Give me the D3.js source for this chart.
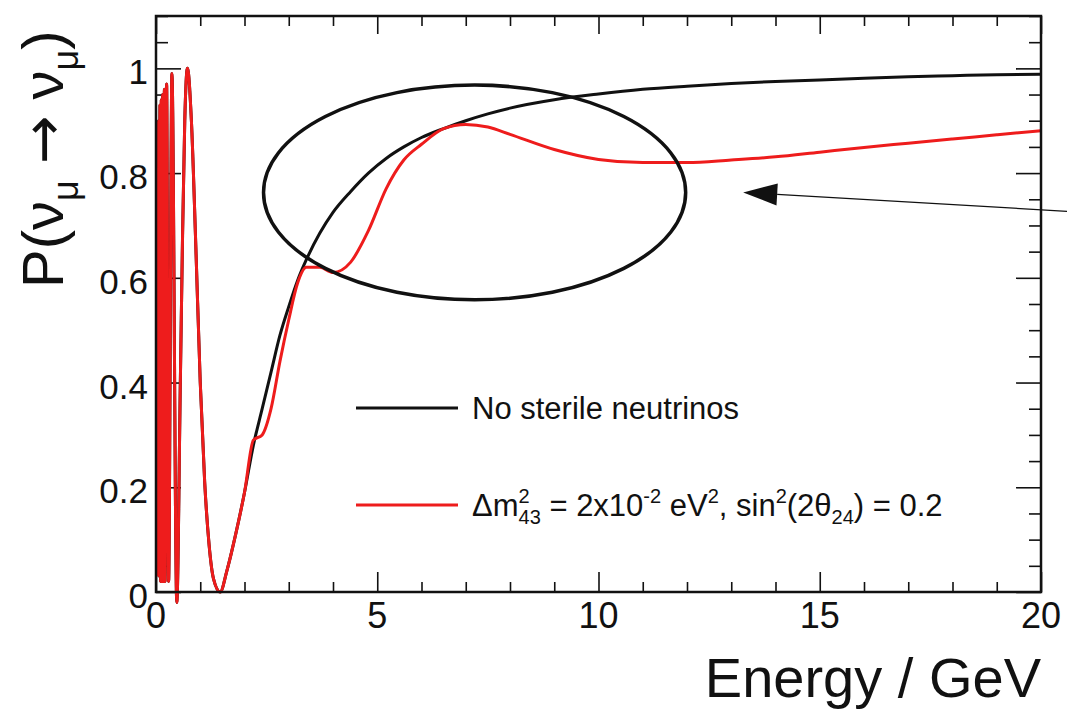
<!DOCTYPE html>
<html>
<head>
<meta charset="utf-8">
<script src="https://cdn.jsdelivr.net/npm/d3@7"></script>
<style>
  html, body { margin: 0; padding: 0; background: #fff; }
  svg text { font-family: "Liberation Sans", Arial, Helvetica, sans-serif; fill: #111; }
</style>
</head>
<body>
<div id="canvas"></div>
<script>
var energyGeV = [0.05, 0.06, 0.075, 0.09, 0.105, 0.12, 0.135, 0.15, 0.165, 0.19, 0.205, 0.24, 0.285, 0.36, 0.47,
  0.55, 0.6, 0.65, 0.71, 0.8, 0.9, 1.0, 1.1, 1.2, 1.3, 1.45, 1.6, 1.8, 2.0, 2.2, 2.4, 2.6, 2.8, 3.0, 3.2, 3.4,
  3.7, 4.0, 4.4, 4.8, 5.2, 5.6, 6.0, 6.5, 7.0, 7.5, 8, 9, 10, 11, 12, 13, 14, 15, 16, 17, 18, 19, 20];

// survival probability, standard 3-flavour
var probNoSterile = [0.03, 0.9, 0.03, 0.93, 0.02, 0.94, 0.02, 0.95, 0.02, 0.96, 0.02, 0.97, 0.02, 0.99, -0.02,
  0.4, 0.68, 0.9, 1.0, 0.9, 0.66, 0.4, 0.21, 0.09, 0.025, 0.0, 0.04, 0.11, 0.19, 0.28, 0.35, 0.42, 0.49, 0.545, 0.595, 0.635,
  0.685, 0.725, 0.765, 0.80, 0.828, 0.85, 0.868, 0.885, 0.90, 0.913, 0.924, 0.94, 0.951, 0.96, 0.966, 0.971, 0.975,
  0.978, 0.981, 0.984, 0.986, 0.988, 0.989];

// survival probability with dm2_43 = 2e-2 eV2, sin2(2th24) = 0.2
var probSterile = [0.03, 0.9, 0.03, 0.93, 0.02, 0.94, 0.02, 0.95, 0.02, 0.96, 0.02, 0.97, 0.02, 0.99, -0.02,
  0.4, 0.68, 0.9, 1.0, 0.9, 0.66, 0.4, 0.21, 0.09, 0.025, 0.0, 0.04, 0.11, 0.19, 0.29, 0.30, 0.35, 0.44, 0.52, 0.59, 0.62,
  0.62, 0.61, 0.63, 0.69, 0.77, 0.825, 0.855, 0.885, 0.893, 0.888, 0.874, 0.845, 0.826, 0.82, 0.82, 0.825, 0.831,
  0.84, 0.849, 0.857, 0.865, 0.873, 0.881];

var xTicks = [0, 5, 10, 15, 20];
var xTickLabels = ["0", "5", "10", "15", "20"];
var yTicks = [0, 0.2, 0.4, 0.6, 0.8, 1];
var yTickLabels = ["0", "0.2", "0.4", "0.6", "0.8", "1"];

var legendLabels = ["No sterile neutrinos", "sterile"];

var Chart = {
  svg: null,

  draw: function() {
    var width = 1067, height = 713;
    var frame = { left: 156, right: 1041, top: 16, bottom: 592 };

    var svg = d3.select("#canvas").append("svg")
      .attr("width", width)
      .attr("height", height);
    Chart.svg = svg;

    var x = d3.scaleLinear().domain([0, 20]).range([frame.left, frame.right]);
    var y = d3.scaleLinear().domain([0, 1.1]).range([frame.bottom, frame.top]);

    // ticks, ROOT style: inward, mirrored on top and right
    var xMinor = d3.range(0, 21, 1).filter(function(v) { return v % 5 !== 0; });
    var yMinor = d3.range(0, 23).map(function(i) { return i * 0.05; })
      .filter(function(v) { return Math.abs(v * 5 - Math.round(v * 5)) > 1e-6; });

    function tickAxis(axisFn, scale, values, size, tr) {
      svg.append("g")
        .attr("transform", tr)
        .call(axisFn(scale).tickValues(values).tickSize(size).tickSizeOuter(0).tickFormat(""))
        .call(function(g) {
          g.select(".domain").remove();
          g.selectAll(".tick line").attr("stroke", "#111").attr("stroke-width", 1.6);
        });
    }
    tickAxis(d3.axisBottom, x, xTicks, -20, "translate(0," + frame.bottom + ")");
    tickAxis(d3.axisBottom, x, xMinor, -10, "translate(0," + frame.bottom + ")");
    tickAxis(d3.axisTop, x, xTicks, -18, "translate(0," + frame.top + ")");
    tickAxis(d3.axisTop, x, xMinor, -10, "translate(0," + frame.top + ")");
    tickAxis(d3.axisLeft, y, yTicks, -25, "translate(" + frame.left + ",0)");
    tickAxis(d3.axisLeft, y, yMinor, -12, "translate(" + frame.left + ",0)");
    tickAxis(d3.axisRight, y, yTicks, -25, "translate(" + frame.right + ",0)");
    tickAxis(d3.axisRight, y, yMinor, -12, "translate(" + frame.right + ",0)");

    // tick labels
    svg.append("g").selectAll("text")
      .data(xTicks)
      .enter().append("text")
      .attr("x", function(d) { return x(d); })
      .attr("y", frame.bottom + 36)
      .attr("text-anchor", "middle")
      .attr("font-size", 36)
      .text(function(d, i) { return xTickLabels[i]; });

    svg.append("g").selectAll("text")
      .data(yTicks)
      .enter().append("text")
      .attr("x", frame.left - 8)
      .attr("y", function(d) { return y(d) + 16; })
      .attr("text-anchor", "end")
      .attr("font-size", 35)
      .text(function(d, i) { return yTickLabels[i]; });

    // curves
    var pts = function(vals) {
      return energyGeV.map(function(e, i) { return [e, vals[i]]; });
    };
    var line = d3.line()
      .x(function(d) { return x(d[0]); })
      .y(function(d) { return y(d[1]); })
      .curve(d3.curveMonotoneX);

    svg.append("path")
      .datum(pts(probNoSterile))
      .attr("fill", "none")
      .attr("stroke", "#111")
      .attr("stroke-width", 3)
      .attr("d", line);

    svg.append("path")
      .datum(pts(probSterile))
      .attr("fill", "none")
      .attr("stroke", "#ee1c1c")
      .attr("stroke-width", 3)
      .attr("d", line);

    // frame
    svg.append("rect")
      .attr("x", frame.left)
      .attr("y", frame.top)
      .attr("width", frame.right - frame.left)
      .attr("height", frame.bottom - frame.top)
      .attr("fill", "none")
      .attr("stroke", "#111")
      .attr("stroke-width", 2.5);

    // legend
    var lg = svg.append("g");
    lg.append("line")
      .attr("x1", 356).attr("x2", 458).attr("y1", 408).attr("y2", 408)
      .attr("stroke", "#111").attr("stroke-width", 3);
    lg.append("text")
      .attr("x", 472).attr("y", 419)
      .attr("font-size", 31)
      .text(legendLabels[0]);

    lg.append("line")
      .attr("x1", 356).attr("x2", 458).attr("y1", 505).attr("y2", 505)
      .attr("stroke", "#ee1c1c").attr("stroke-width", 3);
    var t = lg.append("text")
      .attr("x", 472).attr("y", 516)
      .attr("font-size", 31)
      .style("white-space", "pre");
    t.append("tspan").text("\u0394m");
    t.append("tspan").attr("font-size", 20).attr("dy", -13).text("2");
    t.append("tspan").attr("font-size", 20).attr("dx", -11.1).attr("dy", 21).text("43");
    t.append("tspan").attr("dy", -8).text(" = 2x10");
    t.append("tspan").attr("font-size", 20).attr("dy", -13).text("-2");
    t.append("tspan").attr("dy", 13).text(" eV");
    t.append("tspan").attr("font-size", 20).attr("dy", -13).text("2");
    t.append("tspan").attr("dy", 13).text(", sin");
    t.append("tspan").attr("font-size", 20).attr("dy", -13).text("2");
    t.append("tspan").attr("dy", 13).text("(2\u03b8");
    t.append("tspan").attr("font-size", 20).attr("dy", 8).text("24");
    t.append("tspan").attr("dy", -8).text(") = 0.2");

    // axis titles
    svg.append("text")
      .attr("x", 1041)
      .attr("y", 697)
      .attr("text-anchor", "end")
      .attr("font-size", 56)
      .text("Energy / GeV");

    var yt = svg.append("text")
      .attr("transform", "translate(63,288) rotate(-90)")
      .attr("text-anchor", "start")
      .attr("font-size", 58)
      .style("white-space", "pre");
    yt.append("tspan").text("P(\u03bd");
    yt.append("tspan").attr("font-size", 36).attr("dy", 15).text("\u03bc");
    yt.append("tspan").attr("dy", -15).text(" ");
    yt.append("tspan").style("font-family", "DejaVu Sans").text("\u2192");
    yt.append("tspan").text(" \u03bd");
    yt.append("tspan").attr("font-size", 36).attr("dy", 15).text("\u03bc");
    yt.append("tspan").attr("dy", -15).text(")");

    // annotation: ellipse round the sterile dip and an arrow pointing at it
    var ecx = 7.2, ecy = 0.763, erx = 4.77, ery = 0.205;
    svg.append("ellipse")
      .attr("cx", x(ecx))
      .attr("cy", y(ecy))
      .attr("rx", x(ecx + erx) - x(ecx))
      .attr("ry", y(ecy - ery) - y(ecy))
      .attr("fill", "none")
      .attr("stroke", "#111")
      .attr("stroke-width", 3.5);

    var tip = [x(13.27), y(0.763)], tail = [x(20.6), y(0.727)];
    var ang = Math.atan2(tail[1] - tip[1], tail[0] - tip[0]);
    var len = 34, half = 11;
    var base = [tip[0] + len * Math.cos(ang), tip[1] + len * Math.sin(ang)];
    svg.append("line")
      .attr("x1", base[0]).attr("y1", base[1])
      .attr("x2", tail[0]).attr("y2", tail[1])
      .attr("stroke", "#111").attr("stroke-width", 1.3);
    svg.append("path")
      .attr("d", "M" + tip[0] + "," + tip[1] +
        "L" + (base[0] - half * Math.sin(ang)) + "," + (base[1] + half * Math.cos(ang)) +
        "L" + (base[0] + half * Math.sin(ang)) + "," + (base[1] - half * Math.cos(ang)) + "Z")
      .attr("fill", "#111");
  }
};

try {
  Chart.draw();
} catch (e) {
  console.log(e);
}
</script>
</body>
</html>
